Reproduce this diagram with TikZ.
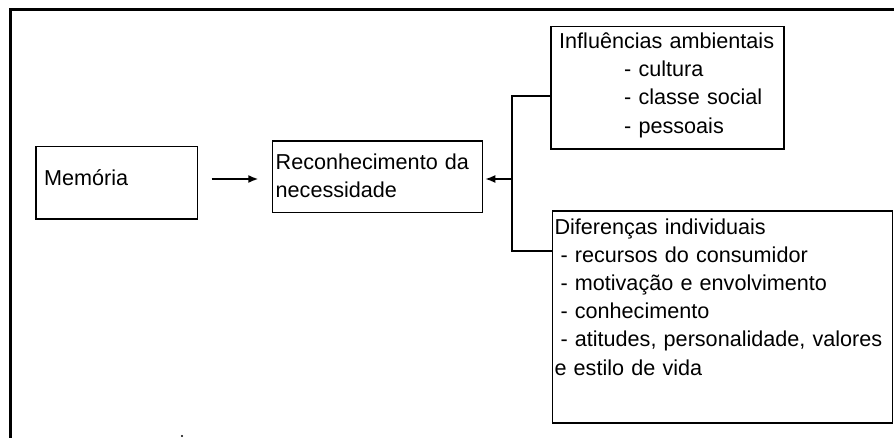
\documentclass[tikz,border=0pt]{standalone}
\usepackage{fontspec}
\setmainfont{Liberation Sans}
\tikzstyle{caixa}=[draw,anchor=north west,inner ysep=0pt,align=left]
\tikzstyle{every node}+=[font=\fontsize{10.8pt}{14.1pt}\selectfont]
\tikzstyle{every path}+=[line width=0.8pt]
\tikzstyle{seta}=[-{Latex[length=5pt,width=4pt]}]
\usetikzlibrary{arrows.meta,positioning}
\newcommand{\recuo}{\hspace*{3pt}}
\newcommand{\fator}{\hspace*{32.5pt}- }

\begin{document}
\begin{tikzpicture}[x=0.5pt,y=-0.5pt]
\useasboundingbox (0,0) rectangle (894,438);
\draw[line width=1.5pt] (10,438) -- (10,10) -- (894,10);

\node[caixa,inner xsep=4.2pt,text width=72.4pt,text height=19.75pt,text depth=16.55pt] (memoria) at (35,145.7) {Memória};
\node[caixa,inner xsep=1.6pt,text width=101.8pt,text height=14.5pt,text depth=21.3pt] (reconhecimento) at (271.7,140) {Reconhecimento da\\necessidade};
\node[caixa,inner xsep=4.2pt,text width=108.1pt,text height=11pt,text depth=50.3pt] (influencias) at (550,25.7) {Influências ambientais\\\fator cultura\\\fator classe social\\\fator pessoais};
\node[caixa,inner xsep=1pt,text width=168pt,text height=11.65pt,text depth=94.35pt] (diferencas) at (551.7,210) {Diferenças individuais\\\recuo- recursos do consumidor\\\recuo- motivação e envolvimento\\\recuo- conhecimento\\\recuo- atitudes, personalidade, valores\\e estilo de vida};

\coordinate (topo) at (512,96);
\coordinate (juncao) at (512,179);
\coordinate (base) at (512,251);
\draw (influencias.west |- topo) -- (topo) -- (base) -- (diferencas.west |- base);
\draw[seta,shorten >=1pt] (juncao) -- (reconhecimento.east |- juncao);
\draw[seta,shorten <=6.7pt,shorten >=6.7pt] (memoria.east |- juncao) -- (reconhecimento.west |- juncao);

\fill (182,436) circle (0.6pt);
\end{tikzpicture}
\end{document}
